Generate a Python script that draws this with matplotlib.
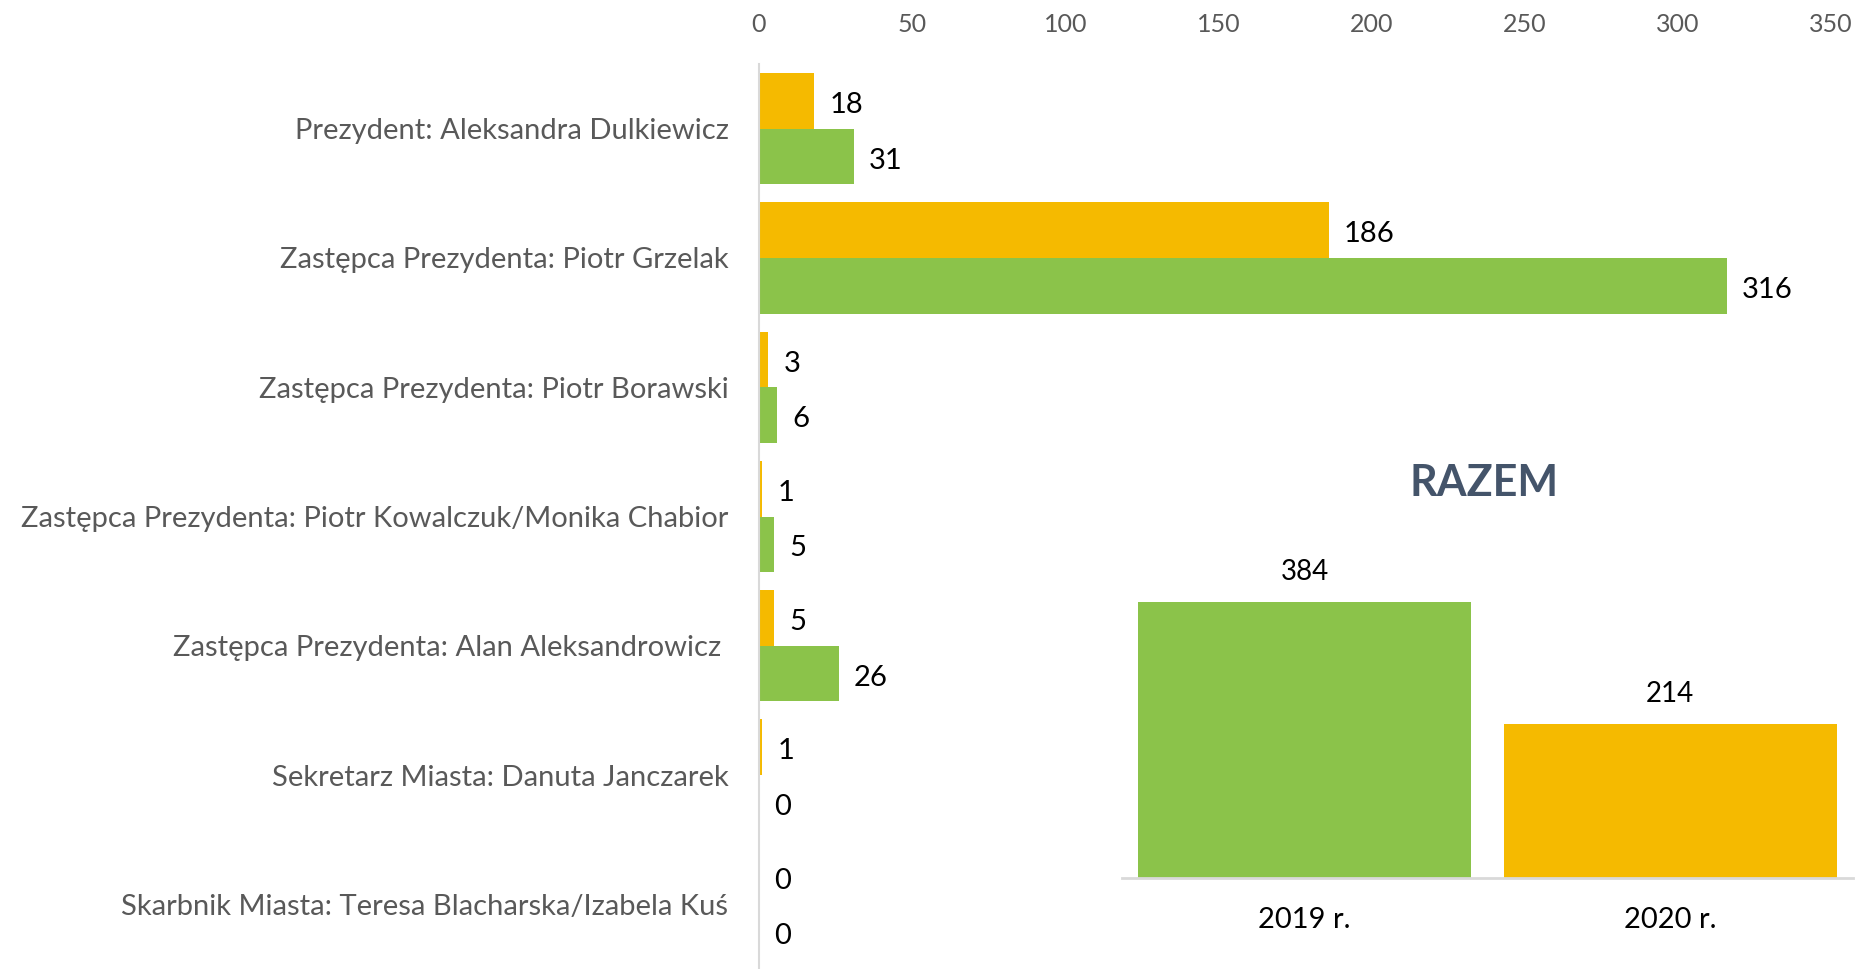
import matplotlib.pyplot as plt
import numpy as np

plt.rcParams['font.family'] = ['Lato', 'DejaVu Sans']

# data
kategorie = ['Prezydent: Aleksandra Dulkiewicz',
             'Zastępca Prezydenta: Piotr Grzelak',
             'Zastępca Prezydenta: Piotr Borawski',
             'Zastępca Prezydenta: Piotr Kowalczuk/Monika Chabior',
             'Zastępca Prezydenta: Alan Aleksandrowicz ',
             'Sekretarz Miasta: Danuta Janczarek',
             'Skarbnik Miasta: Teresa Blacharska/Izabela Kuś']
wart_2020 = [18, 186, 3, 1, 5, 1, 0]
wart_2019 = [31, 316, 6, 5, 26, 0, 0]

lata = ['2019 r.', '2020 r.']
razem = [384, 214]

ZIELONY = '#8BC34A'
POMARANCZ = '#F5BA00'
SZARY = '#595959'
LINIA = '#D9D9D9'

fig = plt.figure(figsize=(18.57, 9.69), dpi=100)

# main horizontal bar chart
ax = fig.add_axes([759/1857, 0.0, 1072/1857, 905/969])
y = np.arange(len(kategorie))
h = 0.43
b20 = ax.barh(y - h/2, wart_2020, height=h, color=POMARANCZ)
b19 = ax.barh(y + h/2, wart_2019, height=h, color=ZIELONY)
for bars, vals in ((b20, wart_2020), (b19, wart_2019)):
    for bar, v in zip(bars, vals):
        ax.annotate(str(v), (v, bar.get_y() + bar.get_height()/2),
                    xytext=(11, -3), textcoords='offset points',
                    ha='left', va='center', fontsize=21, color='black')

ax.set_xlim(0, 350)
ax.set_ylim(len(kategorie) - 0.5, -0.5)
ax.set_xticks(np.arange(0, 351, 50))
ax.xaxis.tick_top()
ax.tick_params(axis='x', length=0, pad=20, labelsize=18, labelcolor=SZARY)
ax.set_yticks(y)
ax.set_yticklabels(kategorie)
ax.tick_params(axis='y', length=0, pad=22, labelsize=21, labelcolor=SZARY)
for s in ['top', 'right', 'bottom']:
    ax.spines[s].set_visible(False)
ax.spines['left'].set_color(LINIA)
ax.spines['left'].set_linewidth(1.5)

# inset with totals
ax2 = fig.add_axes([1122/1857, 91/969, 731/1857, 348/969])
x2 = np.arange(len(lata))
bars = ax2.bar(x2, razem, width=0.912, color=[ZIELONY, POMARANCZ])
for bar, v in zip(bars, razem):
    ax2.annotate(str(v), (bar.get_x() + bar.get_width()/2, v),
                 xytext=(0, 12), textcoords='offset points',
                 ha='center', va='bottom', fontsize=20, color='black')
ax2.set_xlim(-0.5, 1.5)
ax2.set_ylim(0, 484)
ax2.set_xticks(x2)
ax2.set_xticklabels(lata)
ax2.set_yticks([])
ax2.tick_params(axis='x', length=0, pad=21, labelsize=21, labelcolor='black')
for s in ['top', 'right', 'left']:
    ax2.spines[s].set_visible(False)
ax2.spines['bottom'].set_color(LINIA)
ax2.spines['bottom'].set_linewidth(2)
ax2.patch.set_alpha(0)

fig.text(1484/1857, 1 - 483/969, 'RAZEM', ha='center', va='center',
         fontsize=31, fontweight='bold', color='#44546A')

fig.savefig('out.png', dpi=100)
